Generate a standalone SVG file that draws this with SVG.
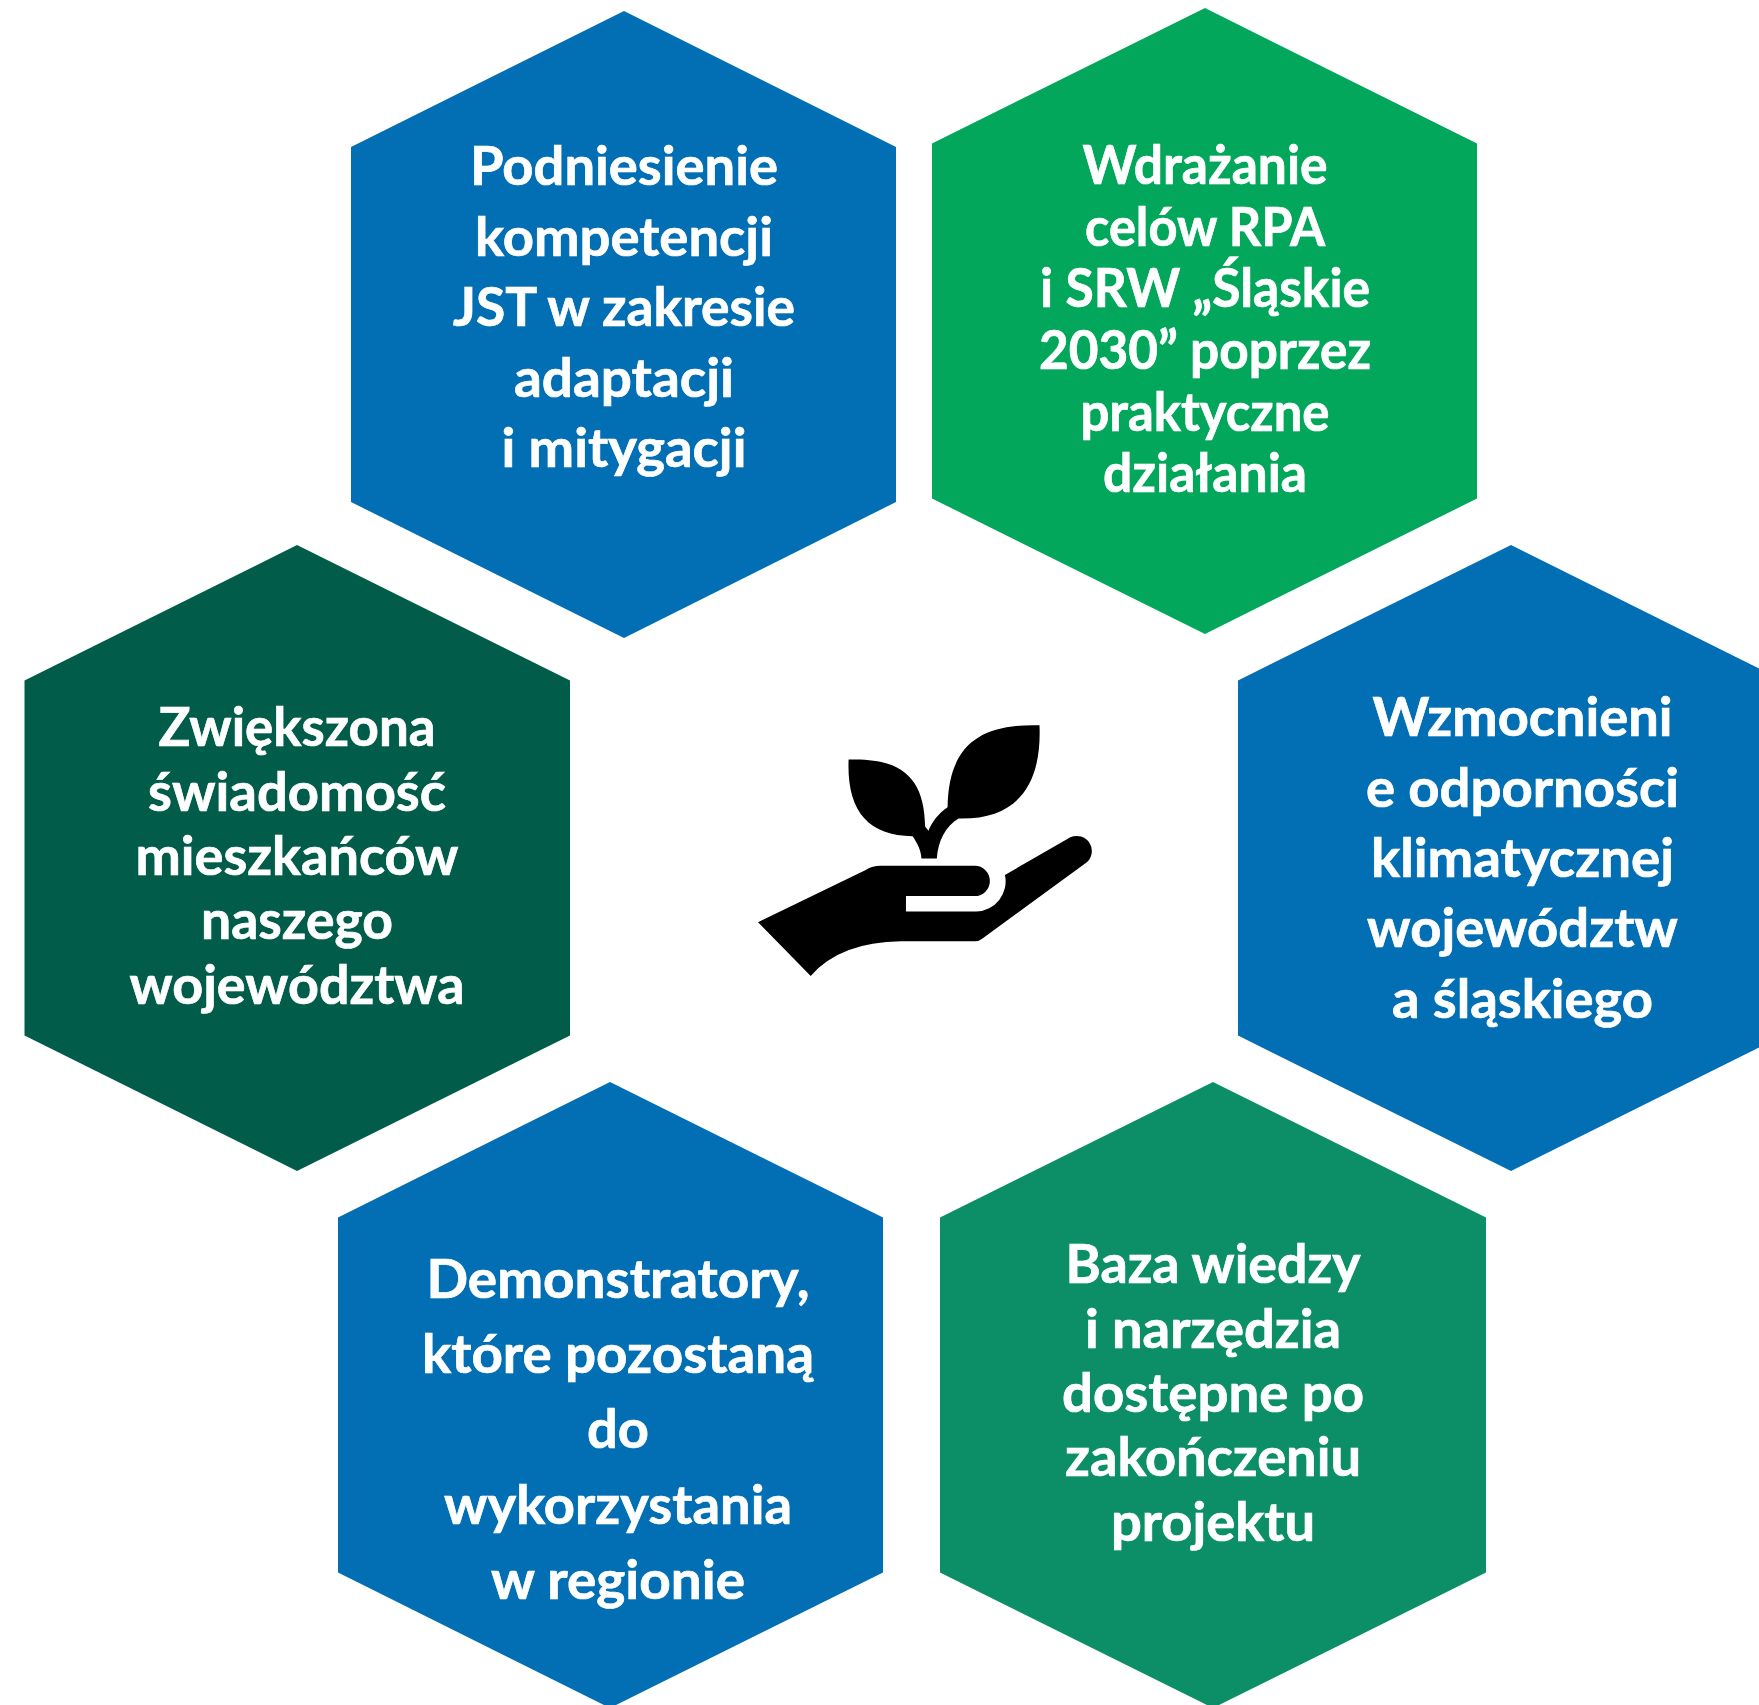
<svg xmlns="http://www.w3.org/2000/svg" width="1759" height="1705" viewBox="0 0 1759 1705">
<style>
.t{font-family:"Lato","Open Sans",sans-serif;font-weight:700;font-size:54px;fill:#fff;stroke:#fff;stroke-width:0.7px;text-anchor:middle}
.b{fill:#026EB4}
</style>
<rect width="1759" height="1705" fill="#fff"/>
<g id="node-podniesienie"><polygon class="b" points="624,11 896,147 896,502 624,638 351,502 351,147"/>
<text class="t" x="624" y="185" textLength="308" lengthAdjust="spacingAndGlyphs">Podniesienie</text>
<text class="t" x="624" y="256" textLength="298" lengthAdjust="spacingAndGlyphs">kompetencji</text>
<text class="t" x="624" y="326" textLength="342" lengthAdjust="spacingAndGlyphs">JST w zakresie</text>
<text class="t" x="624" y="397" textLength="220" lengthAdjust="spacingAndGlyphs">adaptacji</text>
<text class="t" x="624" y="467" textLength="245" lengthAdjust="spacingAndGlyphs">i mitygacji</text></g>
<g id="node-wdrazanie"><polygon fill="#03A75B" points="1205,8 1477,143.500 1477,498.500 1205,634 932,498.500 932,143.500"/>
<text class="t" x="1205" y="184" textLength="245" lengthAdjust="spacingAndGlyphs">Wdrażanie</text>
<text class="t" x="1205" y="246" textLength="240" lengthAdjust="spacingAndGlyphs">celów RPA</text>
<text class="t" x="1205" y="307" textLength="330" lengthAdjust="spacingAndGlyphs">i SRW „Śląskie</text>
<text class="t" x="1205" y="369" textLength="332" lengthAdjust="spacingAndGlyphs">2030” poprzez</text>
<text class="t" x="1205" y="431" textLength="249" lengthAdjust="spacingAndGlyphs">praktyczne</text>
<text class="t" x="1205" y="492" textLength="204" lengthAdjust="spacingAndGlyphs">działania</text></g>
<g id="node-wzmocnienie"><polygon class="b" points="1511,545 1783,680.500 1783,1035.500 1511,1171 1238,1035.500 1238,680.500"/>
<text class="t" x="1522.5" y="736" textLength="300" lengthAdjust="spacingAndGlyphs">Wzmocnieni</text>
<text class="t" x="1522.5" y="807" textLength="313" lengthAdjust="spacingAndGlyphs">e odporności</text>
<text class="t" x="1522.5" y="877" textLength="303" lengthAdjust="spacingAndGlyphs">klimatycznej</text>
<text class="t" x="1522.5" y="947" textLength="311" lengthAdjust="spacingAndGlyphs">województw</text>
<text class="t" x="1522.5" y="1018" textLength="261" lengthAdjust="spacingAndGlyphs">a śląskiego</text></g>
<g id="node-swiadomosc"><polygon fill="#025C4A" points="297,545 570,680.500 570,1035.500 297,1171 24.500,1035.500 24.500,680.500"/>
<text class="t" x="297" y="746" textLength="277" lengthAdjust="spacingAndGlyphs">Zwiększona</text>
<text class="t" x="297" y="811" textLength="298" lengthAdjust="spacingAndGlyphs">świadomość</text>
<text class="t" x="297" y="875" textLength="323" lengthAdjust="spacingAndGlyphs">mieszkańców</text>
<text class="t" x="297" y="939" textLength="192" lengthAdjust="spacingAndGlyphs">naszego</text>
<text class="t" x="297" y="1004" textLength="335" lengthAdjust="spacingAndGlyphs">województwa</text></g>
<g id="node-demonstratory"><polygon class="b" points="610,1082 883,1217.500 883,1572.500 610,1708 338,1572.500 338,1217.500"/>
<text class="t" x="618" y="1298" textLength="383" lengthAdjust="spacingAndGlyphs">Demonstratory,</text>
<text class="t" x="618" y="1373" textLength="392" lengthAdjust="spacingAndGlyphs">które pozostaną</text>
<text class="t" x="618" y="1448" textLength="62" lengthAdjust="spacingAndGlyphs">do</text>
<text class="t" x="618" y="1524" textLength="348" lengthAdjust="spacingAndGlyphs">wykorzystania</text>
<text class="t" x="618" y="1599" textLength="254" lengthAdjust="spacingAndGlyphs">w regionie</text></g>
<g id="node-baza"><polygon fill="#0C8F67" points="1213,1082 1486,1217.500 1486,1572.500 1213,1708 940,1572.500 940,1217.500"/>
<text class="t" x="1213" y="1283" textLength="295" lengthAdjust="spacingAndGlyphs">Baza wiedzy</text>
<text class="t" x="1213" y="1348" textLength="256" lengthAdjust="spacingAndGlyphs">i narzędzia</text>
<text class="t" x="1213" y="1412" textLength="302" lengthAdjust="spacingAndGlyphs">dostępne po</text>
<text class="t" x="1213" y="1476" textLength="296" lengthAdjust="spacingAndGlyphs">zakończeniu</text>
<text class="t" x="1213" y="1541" textLength="204" lengthAdjust="spacingAndGlyphs">projektu</text></g>
<g id="node-icon" transform="translate(739.9,699.8) scale(0.3355)">
<path d="M54 663L375 507Q395 495 420 495L700 495A45 45 0 0 1 700 585L495 585L495 631L705 631A90 90 0 0 0 790 522L985 410A45 45 0 0 1 1032 486L722 712Q712 720 700 720L480 720Q300 722 211 823Z"/>
<path d="M893 76C700 70 622 150 619 320C590 340 572 365 562 390L552 378C550 240 490 172 324 178C318 330 380 405 515 407C530 430 540 450 541 473L587 473C590 420 615 375 652 354C830 358 900 250 893 76Z"/>
</g>
<g id="connectors"/>
</svg>
